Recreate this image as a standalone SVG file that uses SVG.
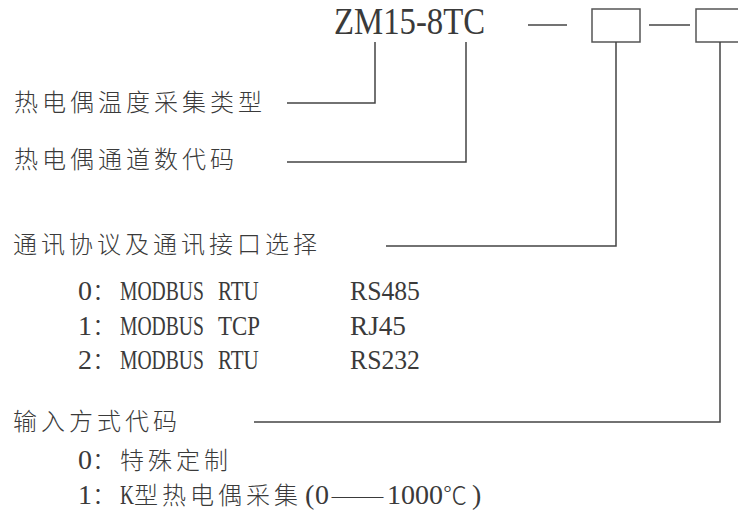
<svg xmlns="http://www.w3.org/2000/svg" width="738" height="515" viewBox="0 0 738 515">
<style>
text{fill:#3a3a3a}
.cjk{font-family:"Noto Sans CJK SC","Noto Sans CJK JP",sans-serif;font-size:24px;letter-spacing:4px;font-weight:300}
.lat{font-family:"Liberation Serif","Times New Roman",serif;font-size:28px}
.big{font-family:"Liberation Serif","Times New Roman",serif;font-size:38px}
.ln{fill:none;stroke:#444;stroke-width:1.5}
.bx{fill:none;stroke:#555;stroke-width:1.5}
</style>
<rect width="738" height="515" fill="#fff"/>
<g id="code">
<text class="big" transform="translate(334,34) scale(0.862,1)">ZM15-8TC</text>
</g>
<g id="box1"><rect class="bx" x="592" y="9" width="48" height="33"/></g>
<g id="box2"><rect class="bx" x="696" y="9" width="48" height="33"/></g>
<g id="connectors">
<path class="ln" d="M528,25H567"/>
<path class="ln" d="M649,25H690"/>
<path class="ln" d="M375,42V103H287"/>
<path class="ln" d="M466,42V162H287"/>
<path class="ln" d="M616,42V246H386"/>
<path class="ln" d="M720,42V422H254"/>
</g>
<g id="type">
<text class="cjk" x="14" y="111">热电偶温度采集类型</text>
</g>
<g id="channels">
<text class="cjk" x="14" y="168">热电偶通道数代码</text>
</g>
<g id="comm">
<text class="cjk" x="13" y="253">通讯协议及通讯接口选择</text>
<g id="opt0">
<text class="lat" x="78" y="300">0</text>
<text class="cjk" x="92" y="300">：</text>
<text class="lat" transform="translate(120,300) scale(0.701,1)">MODBUS</text>
<text class="lat" transform="translate(218,300) scale(0.75,1)">RTU</text>
<text class="lat" transform="translate(350,300) scale(0.918,1)">RS485</text>
</g>
<g id="opt1">
<text class="lat" x="78" y="335">1</text>
<text class="cjk" x="92" y="335">：</text>
<text class="lat" transform="translate(120,335) scale(0.701,1)">MODBUS</text>
<text class="lat" transform="translate(218,335) scale(0.818,1)">TCP</text>
<text class="lat" transform="translate(350,335) scale(0.972,1)">RJ45</text>
</g>
<g id="opt2">
<text class="lat" x="78" y="369">2</text>
<text class="cjk" x="92" y="369">：</text>
<text class="lat" transform="translate(120,369) scale(0.701,1)">MODBUS</text>
<text class="lat" transform="translate(218,369) scale(0.75,1)">RTU</text>
<text class="lat" transform="translate(350,369) scale(0.918,1)">RS232</text>
</g>
</g>
<g id="input">
<text class="cjk" x="13" y="430">输入方式代码</text>
<g id="in0">
<text class="lat" x="78" y="469">0</text>
<text class="cjk" x="92" y="469">：特殊定制</text>
</g>
<g id="in1">
<text class="lat" x="78" y="504">1</text>
<text class="cjk" x="92" y="504">：</text>
<text class="lat" transform="translate(120,504) scale(0.693,1)">K</text>
<text class="cjk" x="134" y="504">型热电偶采集</text>
<text class="lat" x="305" y="504">(<tspan x="315">0</tspan></text>
<text class="cjk" x="330" y="504" textLength="55" lengthAdjust="spacingAndGlyphs" style="letter-spacing:0">——</text>
<text class="lat" x="387" y="504">1000</text>
<text class="cjk" x="443" y="504" style="letter-spacing:0">℃</text>
<text class="lat" x="472" y="504">)</text>
</g>
</g>
</svg>
